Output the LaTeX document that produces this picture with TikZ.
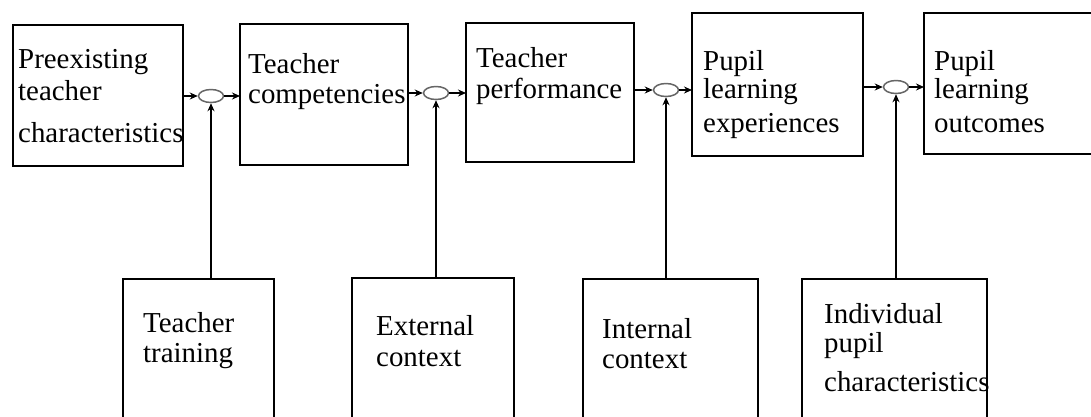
\documentclass[tikz,border=0pt]{standalone}
\usepackage{fontspec}
\setmainfont{Liberation Serif}
\usetikzlibrary{shapes.geometric,arrows.meta}
\begin{document}
\begin{tikzpicture}[x=1pt,y=-1pt,
  boxnode/.style={draw,line width=2.6pt,anchor=north west,inner sep=0pt,outer sep=0pt},
  txt/.style={anchor=base west,inner sep=0pt,text width=220pt,align=left,
    font=\fontsize{28.9}{30}\selectfont},
  junction/.style={ellipse,draw=black!60,line width=1.5pt,minimum width=25pt,minimum height=13pt,inner sep=0pt},
  conn/.style={line width=2.2pt,-{Stealth[length=8pt,width=7pt]}}]
\useasboundingbox (0,0) rectangle (1091,416);
\fill[white] (0,0) rectangle (1091,416);
\clip (0,0) rectangle (1091,416);
% top boxes
\node[boxnode,minimum width=170pt,minimum height=141pt] (b1) at (13,25) {};
\node[boxnode,minimum width=168pt,minimum height=141pt] (b2) at (240,24) {};
\node[boxnode,minimum width=168pt,minimum height=139pt] (b3) at (466,23) {};
\node[boxnode,minimum width=171pt,minimum height=143pt] (b4) at (692,13) {};
\node[boxnode,minimum width=180pt,minimum height=141pt] (b5) at (924,13) {};
% bottom boxes
\node[boxnode,minimum width=151pt,minimum height=160pt] (c1) at (123,279) {};
\node[boxnode,minimum width=162pt,minimum height=160pt] (c2) at (352,278) {};
\node[boxnode,minimum width=175pt,minimum height=160pt] (c3) at (583,279) {};
\node[boxnode,minimum width=185pt,minimum height=160pt] (c4) at (802,279) {};
% texts
\node[txt] (t1) at (18,68) {Preexisting\\[2pt]teacher\\[12pt]characteristics};
\node[txt] (t2) at (248,73) {Teacher\\competencies};
\node[txt] (t3) at (476,67) {Teacher\\[1pt]performance};
\node[txt] (t4) at (703,70) {Pupil\\[-2pt]learning\\[4pt]experiences};
\node[txt] (t5) at (934,70) {Pupil\\[-2pt]learning\\[4pt]outcomes};
\node[txt] (t6) at (143,332) {Teacher\\training};
\node[txt] (t7) at (376,335) {External\\[1pt]context};
\node[txt] (t8) at (602,338) {Internal\\context};
\node[txt] (t9) at (824,323) {Individual\\[-1pt]pupil\\[9pt]characteristics};
% junctions
\node[junction] (j1) at (211,96) {};
\node[junction] (j2) at (436,93) {};
\node[junction] (j3) at (666,90) {};
\node[junction] (j4) at (896,87) {};
% connectors
\draw[conn] (b1.east |- j1) -- (j1.west);
\draw[conn] (j1.east) -- (b2.west |- j1);
\draw[conn] (b2.east |- j2) -- (j2.west);
\draw[conn] (j2.east) -- (b3.west |- j2);
\draw[conn] (b3.east |- j3) -- (j3.west);
\draw[conn] (j3.east) -- (b4.west |- j3);
\draw[conn] (b4.east |- j4) -- (j4.west);
\draw[conn] (j4.east) -- (b5.west |- j4);
\draw[conn] (c1.north -| j1) -- (j1.south);
\draw[conn] (c2.north -| j2) -- (j2.south);
\draw[conn] (c3.north -| j3) -- (j3.south);
\draw[conn] (c4.north -| j4) -- (j4.south);
\end{tikzpicture}
\end{document}
